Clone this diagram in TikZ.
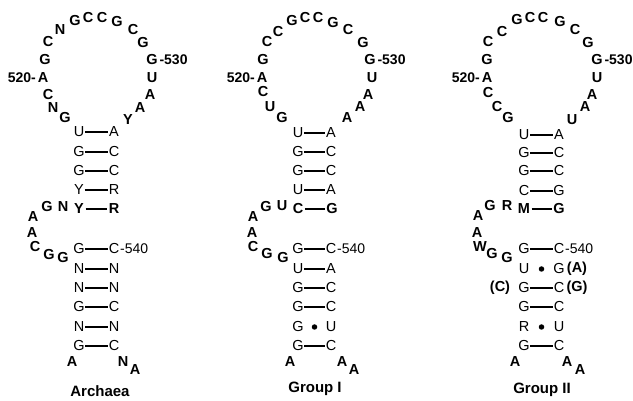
\documentclass[tikz,border=0pt]{standalone}
\usepackage{fontspec}
\setmainfont{Liberation Sans}
\tikzset{
  base/.style={inner sep=1.5pt, anchor=center, font=\fontsize{14.5}{14.5}\selectfont},
  lp/.style={base, font=\fontsize{14.5}{14.5}\selectfont\bfseries},
  st/.style={base, inner sep=0.6pt},
  numr/.style={inner sep=0pt, font=\fontsize{14}{14}\selectfont},
  numb/.style={inner sep=0pt, font=\fontsize{14}{14}\selectfont\bfseries},
  bond/.style={line width=1.2pt},
  wob/.style={circle, fill=black, inner sep=0pt, minimum size=5.5pt},
  ttl/.style={inner sep=0pt, font=\fontsize{15}{15}\selectfont\bfseries}
}
% base pair joined by a line: [style]{name}{y}{x left}{x right}{left}{right}
\newcommand\pairline[7][st]{%
  \node[#1] (#2l) at (#4,#3) {#6};
  \node[#1] (#2r) at (#5,#3) {#7};
  \draw[bond] (#2l) -- (#2r);}
% G.U type pair marked by a dot
\newcommand\pairdot[7][st]{%
  \node[#1] (#2l) at (#4,#3) {#6};
  \node[#1] (#2r) at (#5,#3) {#7};
  \node[wob] (#2d) at ({(#4+#5)/2},#3) {};}
\begin{document}
\begin{tikzpicture}[x=1pt,y=-1pt]
\useasboundingbox (0,0) rectangle (633,401);

% ---------------- Archaea ----------------
\node[lp] (a5) at (72,362) {A};
\pairline{ar1}{346}{79}{114}{G}{C}
\pairline{ar2}{327}{79}{114}{N}{N}
\pairline{ar3}{307}{79}{114}{G}{C}
\pairline{ar4}{288}{79}{114}{N}{N}
\pairline{ar5}{269}{79}{114}{N}{N}
\pairline{ar6}{249}{79}{114}{G}{C}
\node[numr, anchor=west] (a540) at (ar6r.east) {-540};
\node[lp] (ab1) at (63,258) {G};
\node[lp] (ab2) at (49,255) {G};
\node[lp] (ab3) at (35,247) {C};
\node[lp] (ab4) at (32,233) {A};
\node[lp] (ab5) at (33,217) {A};
\node[lp] (ab6) at (47,207) {G};
\node[lp] (ab7) at (63,207) {N};
\pairline[lp]{ar7}{209}{79}{114}{Y}{R}
\pairline{ar8}{190}{79}{114}{Y}{R}
\pairline{ar9}{171}{79}{114}{G}{C}
\pairline{ar10}{152}{79}{114}{G}{C}
\pairline{ar11}{132}{79}{114}{U}{A}
\node[lp] (al1) at (65,118) {G};
\node[lp] (al2) at (53,108) {N};
\node[lp] (al3) at (48,95) {C};
\node[lp] (al4) at (43,78) {A};
\node[numb, anchor=east] (a520) at (al4.west) {520-};
\node[lp] (al5) at (45,60) {G};
\node[lp] (al6) at (48,42) {C};
\node[lp] (al7) at (60,30) {N};
\node[lp] (al8) at (75,21) {G};
\node[lp] (al9) at (88,18) {C};
\node[lp] (al10) at (102,18) {C};
\node[lp] (al11) at (117,22) {G};
\node[lp] (al12) at (133,30) {C};
\node[lp] (al13) at (143,43) {G};
\node[lp] (al14) at (152,60) {G};
\node[numb, anchor=west] (a530) at (al14.east) {-530};
\node[lp] (al15) at (152,78) {U};
\node[lp] (al16) at (150,95) {A};
\node[lp] (al17) at (140,108) {A};
\node[lp] (al18) at (128,120) {Y};
\node[lp] (a3a) at (123,362) {N};
\node[lp] (a3b) at (135,370) {A};
\node[ttl] (atitle) at (100,391) {Archaea};

% ---------------- Group I ----------------
\node[lp] (g5) at (290,362) {A};
\pairline{gr1}{346}{298}{331}{G}{C}
\pairdot{gr2}{327}{298}{331}{G}{U}
\pairline{gr3}{307}{298}{331}{G}{C}
\pairline{gr4}{288}{298}{331}{G}{C}
\pairline{gr5}{269}{298}{331}{U}{A}
\pairline{gr6}{249}{298}{331}{G}{C}
\node[numr, anchor=west] (g540) at (gr6r.east) {-540};
\node[lp] (gb1) at (283,258) {G};
\node[lp] (gb2) at (267,254) {G};
\node[lp] (gb3) at (253,247) {C};
\node[lp] (gb4) at (252,233) {A};
\node[lp] (gb5) at (253,217) {A};
\node[lp] (gb6) at (266,207) {G};
\node[lp] (gb7) at (282,206) {U};
\pairline[lp]{gr7}{209}{298}{332}{C}{G}
\pairline{gr8}{190}{298}{331}{U}{A}
\pairline{gr9}{171}{298}{331}{G}{C}
\pairline{gr10}{152}{298}{331}{G}{C}
\pairline{gr11}{133}{298}{331}{U}{A}
\node[lp] (gl1) at (282,118) {G};
\node[lp] (gl2) at (270,107) {U};
\node[lp] (gl3) at (263,92) {C};
\node[lp] (gl4) at (262,78) {A};
\node[numb, anchor=east] (g520) at (gl4.west) {520-};
\node[lp] (gl5) at (263,60) {G};
\node[lp] (gl6) at (267,42) {C};
\node[lp] (gl7) at (278,32) {C};
\node[lp] (gl8) at (292,21) {G};
\node[lp] (gl9) at (305,18) {C};
\node[lp] (gl10) at (318,18) {C};
\node[lp] (gl11) at (333,23) {G};
\node[lp] (gl12) at (348,30) {C};
\node[lp] (gl13) at (363,43) {G};
\node[lp] (gl14) at (370,60) {G};
\node[numb, anchor=west] (g530) at (gl14.east) {-530};
\node[lp] (gl15) at (372,78) {U};
\node[lp] (gl16) at (368,95) {A};
\node[lp] (gl17) at (360,107) {A};
\node[lp] (gl18) at (347,118) {A};
\node[lp] (g3a) at (342,362) {A};
\node[lp] (g3b) at (354,370) {A};
\node[ttl] (gtitle) at (315,389) {Group I};

% ---------------- Group II ----------------
\node[lp] (h5) at (515,362) {A};
\pairline{hr1}{346}{524}{559}{G}{C}
\pairdot{hr2}{327}{524}{559}{R}{U}
\pairline{hr3}{307}{524}{559}{G}{C}
\pairline{hr4}{288}{524}{559}{G}{C}
\node[lp] (hvC) at (500,288) {(C)};
\node[lp] (hvG) at (577,288) {(G)};
\pairdot{hr5}{269}{524}{559}{U}{G}
\node[lp] (hvA) at (577,269) {(A)};
\pairline{hr6}{249}{524}{559}{G}{C}
\node[numr, anchor=west] (h540) at (hr6r.east) {-540};
\node[lp] (hb1) at (507,258) {G};
\node[lp] (hb2) at (492,254) {G};
\node[lp] (hb3) at (480,247) {W};
\node[lp] (hb4) at (477,233) {A};
\node[lp] (hb5) at (478,216) {A};
\node[lp] (hb6) at (490,206) {G};
\node[lp] (hb7) at (507,206) {R};
\pairline[lp]{hr7}{209}{524}{559}{M}{G}
\pairline{hr8}{191}{524}{559}{C}{G}
\pairline{hr9}{171}{524}{559}{G}{C}
\pairline{hr10}{153}{524}{559}{G}{C}
\pairline{hr11}{135}{524}{559}{U}{A}
\node[lp] (hl1) at (508,118) {G};
\node[lp] (hl2) at (497,107) {C};
\node[lp] (hl3) at (488,93) {C};
\node[lp] (hl4) at (487,78) {A};
\node[numb, anchor=east] (h520) at (hl4.west) {520-};
\node[lp] (hl5) at (487,60) {G};
\node[lp] (hl6) at (488,42) {C};
\node[lp] (hl7) at (502,32) {C};
\node[lp] (hl8) at (517,20) {G};
\node[lp] (hl9) at (530,18) {C};
\node[lp] (hl10) at (543,18) {C};
\node[lp] (hl11) at (560,22) {G};
\node[lp] (hl12) at (575,30) {C};
\node[lp] (hl13) at (588,43) {G};
\node[lp] (hl14) at (597,60) {G};
\node[numb, anchor=west] (h530) at (hl14.east) {-530};
\node[lp] (hl15) at (597,78) {U};
\node[lp] (hl16) at (592,95) {A};
\node[lp] (hl17) at (585,107) {A};
\node[lp] (hl18) at (572,120) {U};
\node[lp] (h3a) at (567,362) {A};
\node[lp] (h3b) at (580,370) {A};
\node[ttl] (htitle) at (542,390) {Group II};
\end{tikzpicture}
\end{document}
